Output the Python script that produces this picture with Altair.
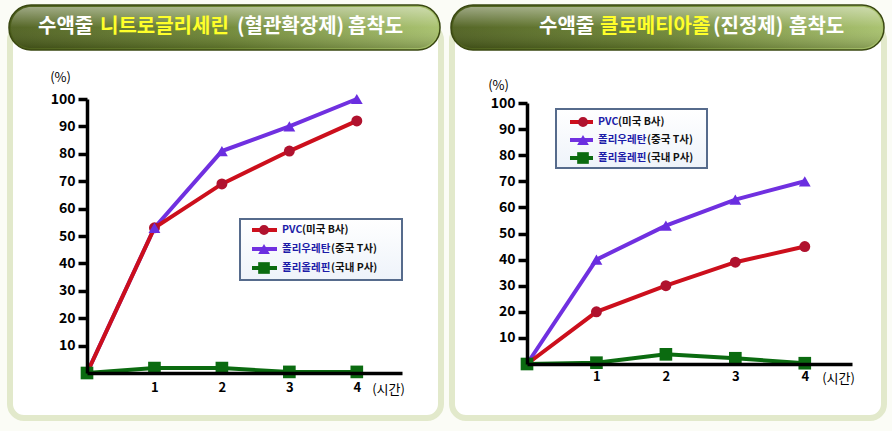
import altair as alt
import pandas as pd

# ---------------- data ----------------
hours = [0, 1, 2, 3, 4]
series_main = ["PVC", "폴리우레탄", "폴리올레핀"]
series_sub = ["(미국 B사)", "(중국 T사)", "(국내 P사)"]
series = [m + s for m, s in zip(series_main, series_sub)]

left_pvc = [0, 53, 69, 81, 92]
left_pu = [0, 53, 81, 90, 100]
left_pe = [0, 1.8, 1.8, 0.4, 0.4]

right_pvc = [0, 20, 30, 39, 45]
right_pu = [0, 40, 53, 63, 70]
right_pe = [0, 0.5, 3.7, 2.2, 0.3]

y_ticks = [10, 20, 30, 40, 50, 60, 70, 80, 90, 100]
x_ticks = [1, 2, 3, 4]
y_unit = "(%)"
x_unit = "(시간)"

title_left = ["수액줄", "니트로글리세린", "(혈관확장제)", "흡착도"]
title_right = ["수액줄", "클로메티아졸", "(진정제)", "흡착도"]

# ---------------- styles ----------------
W, H = 892, 431
FONT = "Noto Sans CJK KR"
colors = ["#cc0f1c", "#7030e0", "#0b6b10"]
marker_colors = ["#b0122e", "#6a2ee0", "#0b6b10"]
shapes = ["circle", "triangle-up", "square"]
sizes = [120, 160, 160]
title_colors = ["#ffffff", "#ffff2a", "#ffffff", "#ffffff"]


def long_df(a, b, c):
    rows = []
    for i, vals in enumerate([a, b, c]):
        for h, v in zip(hours, vals):
            rows.append({"series": series[i], "hour": h, "value": v, "k": i})
    return pd.DataFrame(rows)


one = pd.DataFrame({"a": [0]})


def rect(x, x2, y, y2, **kw):
    return alt.Chart(one).mark_rect(**kw).encode(
        x=alt.value(x), x2=alt.value(x2), y=alt.value(y), y2=alt.value(y2))


def text(x, y, s, **kw):
    return alt.Chart(one).mark_text(text=s, font=FONT, **kw).encode(
        x=alt.value(x), y=alt.value(y))


def panel(df, x0, x1, xmax, y0, y100, tx, ty, xlab_pad, xtx, xty):
    xs = alt.Scale(domain=[0, xmax], range=[x0, x1], nice=False, zero=False)
    ys = alt.Scale(domain=[0, 100], range=[y0, y100], nice=False)
    xa = alt.Axis(values=x_ticks, orient="bottom", offset=y0 - H, ticks=False,
                  domainColor="black", domainWidth=3.5, grid=False, zindex=1,
                  labelFont=FONT, labelFontSize=13, labelFontWeight="bold",
                  labelColor="black", labelPadding=xlab_pad, format="d",
                  title=x_unit, titleFont=FONT, titleFontSize=13,
                  titleFontWeight="normal", titleColor="black", titleX=xtx,
                  titleY=xty, titleAlign="center", titleBaseline="middle",
                  titleAngle=0)
    ya = alt.Axis(values=y_ticks, orient="left", offset=-x0, domainColor="black",
                  domainWidth=3.5, tickColor="black", tickWidth=3.5, tickSize=9,
                  grid=False, zindex=1, labelFont=FONT, labelFontSize=14,
                  labelFontWeight="bold", labelColor="black", labelPadding=3,
                  title=y_unit, titleFont=FONT, titleFontSize=13,
                  titleFontWeight="normal", titleColor="black", titleX=tx,
                  titleY=ty, titleAlign="center", titleBaseline="middle",
                  titleAngle=0)
    base = alt.Chart(df)
    X = alt.X("hour:Q", scale=xs, axis=xa)
    Y = alt.Y("value:Q", scale=ys, axis=ya)
    lines = []
    for i in [1, 2, 0]:
        lines.append(base.transform_filter(alt.datum.k == i).mark_line(
            strokeWidth=4, color=colors[i]).encode(x=X, y=Y, order="hour:Q"))
    pts = base.mark_point(filled=True, opacity=1).encode(
        x=X, y=Y,
        color=alt.Color("series:N", scale=alt.Scale(domain=series, range=marker_colors), legend=None),
        shape=alt.Shape("series:N", scale=alt.Scale(domain=series, range=shapes), legend=None),
        size=alt.Size("series:N", scale=alt.Scale(domain=series, range=sizes), legend=None),
        order="k:Q",
    )
    return alt.layer(*lines, pts)


def legend(bx0, bx1, by0, by1, rows_y, lx0, lx1, mx, tx, sub_x):
    layers = [rect(bx0, bx1, by0, by1,
                   fill=alt.Gradient(gradient="linear",
                                     stops=[alt.GradientStop(color="#ffffff", offset=0),
                                            alt.GradientStop(color="#eef3fa", offset=1)],
                                     x1=0, x2=0, y1=0, y2=1),
                   stroke="#566b8c", strokeWidth=2)]
    for i, ry in enumerate(rows_y):
        layers.append(alt.Chart(one).mark_rule(color=colors[i], strokeWidth=4).encode(
            x=alt.value(lx0), x2=alt.value(lx1), y=alt.value(ry)))
        layers.append(alt.Chart(one).mark_point(filled=True, opacity=1, shape=shapes[i],
                                                size=sizes[i] * 0.85, color=marker_colors[i]).encode(
            x=alt.value(mx), y=alt.value(ry)))
        layers.append(text(tx, ry, series_main[i], align="left", baseline="middle",
                           fontSize=10.5, fontWeight="bold", color="#1c1ca8"))
        layers.append(text(sub_x[i], ry, series_sub[i], align="left", baseline="middle",
                           fontSize=10.5, fontWeight="bold", color="#111111"))
    return layers


def title(px0, px1, xs, parts):
    grad = alt.Gradient(gradient="linear",
                        stops=[alt.GradientStop(color="#4c5e1c", offset=0),
                               alt.GradientStop(color="#6d8632", offset=0.5),
                               alt.GradientStop(color="#a6c06a", offset=1)],
                        x1=0, x2=1, y1=0.5, y2=0.5)
    shine = alt.Gradient(gradient="linear",
                         stops=[alt.GradientStop(color="rgba(255,255,255,0.45)", offset=0),
                                alt.GradientStop(color="rgba(255,255,255,0.05)", offset=0.5),
                                alt.GradientStop(color="rgba(0,0,0,0.18)", offset=1)],
                         x1=0, x2=0, y1=0, y2=1)
    ty = 27
    out = [
        rect(px0, px1, 5, 50, fill=grad, cornerRadius=22, stroke="#3a4812", strokeWidth=1.5),
        rect(px0 + 2, px1 - 2, 7, 48, fill=shine, cornerRadius=20),
    ]
    for p, x, c in zip(parts, xs, title_colors):
        out.append(text(x, ty, p, align="left", baseline="middle", fontSize=20,
                        fontWeight="bold", color=c))
    return out


# ---------------- background ----------------
deco = [
    rect(0, W, 0, H, fill="#fbfcf6"),
    rect(10, 441, 26, 418, fill="#ffffff", stroke="#e2e9cb", strokeWidth=6, cornerRadius=14),
    rect(452, 884, 26, 418, fill="#ffffff", stroke="#e2e9cb", strokeWidth=6, cornerRadius=14),
]

left = panel(long_df(left_pvc, left_pu, left_pe), 87, 402, 4.67, 373, 99,
             60 - 87, 77, 8, 388, 16)
right = panel(long_df(right_pvc, right_pu, right_pe), 527, 852, 4.68, 364, 103,
              498 - 527, 85, 6, 838, 14)

layers = deco + title(9, 440, [38, 100, 237, 348], title_left)
layers += title(451, 884, [539, 600, 713, 789], title_right)
layers += [left, right]
layers += legend(240, 402, 219, 280, [230, 249, 268], 252, 277, 264, 282, [302, 331, 331])
layers += legend(556, 707, 109, 168, [122, 140, 158], 570, 593, 583, 598, [618, 647, 647])

chart = alt.layer(*layers).resolve_scale(
    x="independent", y="independent", color="independent",
    shape="independent", size="independent"
).properties(
    width=W, height=H, autosize=alt.AutoSizeParams(type="none"), padding=0
).configure_view(stroke=None)

chart.save("out.html", embed_options={"renderer": "svg", "actions": False})
